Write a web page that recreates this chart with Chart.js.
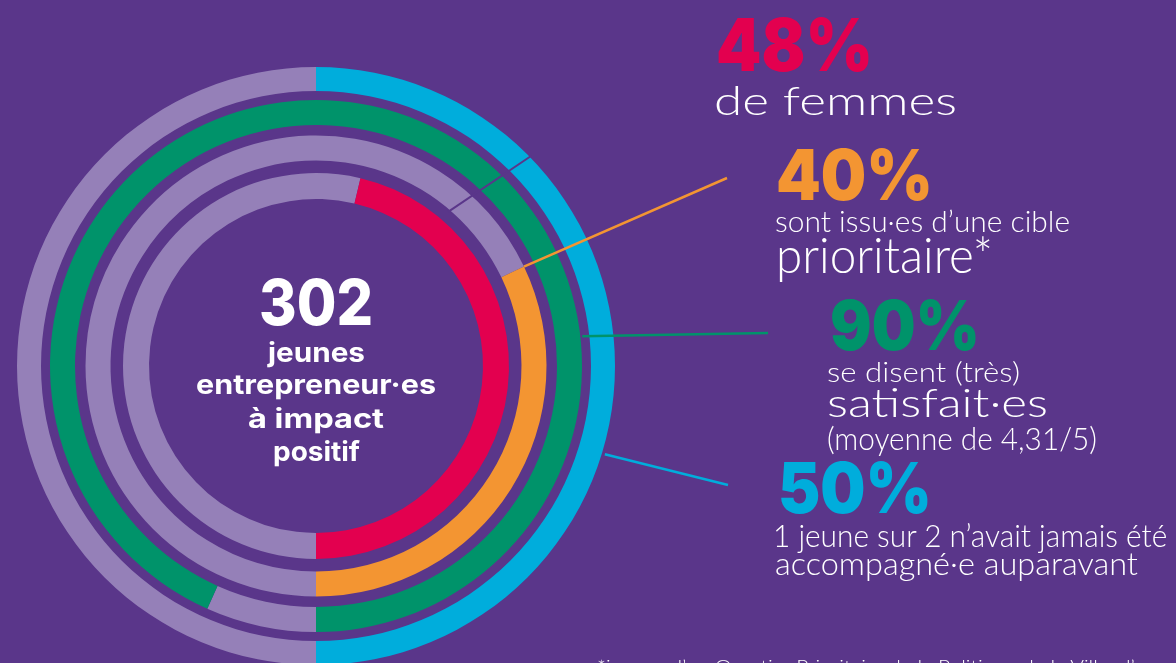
<!DOCTYPE html>
<html lang="fr">
<head>
<meta charset="utf-8">
<title>302 jeunes entrepreneur·es à impact positif</title>
<script src="https://cdn.jsdelivr.net/npm/chart.js@4.4.0/dist/chart.umd.min.js"></script>
<style>
  html, body { margin: 0; padding: 0; }
  body { width: 1176px; height: 663px; overflow: hidden; background: #5a368a; position: relative; font-family: Inter, "Noto Sans", sans-serif; }
  #rings { position: absolute; left: 0; top: 0; }
  .txt { position: absolute; white-space: nowrap; color: #fff; margin: 0; transform-origin: 0 0; }
</style>
</head>
<body>
<canvas id="rings" width="1176" height="663"></canvas>
<div id="labels"></div>
<script>
const BG = '#5a368a';
const REST = '#9580b8';

// rings, outermost first
const ringNames = ['jamais accompagné·e auparavant', 'satisfait·es', 'cible prioritaire', 'femmes'];
const ringShares = [50, 93.3, 32.1, 46.3]; // part of each ring drawn in colour
const ringColors = ['#00addc', '#00936a', '#f39532', '#e3004f'];

const headline = ['50%', '90%', '40%', '48%'];
const totalYoung = '302';
const totalCaption = ['jeunes', 'entrepreneur·es', 'à impact', 'positif'];
const blurbWomen = ['de femmes'];
const blurbTarget = ['sont issu·es d’une cible', 'prioritaire*'];
const blurbSatisfied = ['se disent (très)', 'satisfait·es', '(moyenne de 4,31/5)'];
const blurbFirstTime = ['1 jeune sur 2 n’avait jamais été', 'accompagné·e auparavant'];
const footnote = '*issu·es d’un Quartier Prioritaire de la Politique de la Ville, d’une';

// ring thickness and the empty bands between rings
const ringWeights = [24, 25, 25, 26];
const gapWeights = [9, 10.5, 12.5];

const datasets = [];
ringShares.forEach((share, i) => {
  if (i > 0) {
    datasets.push({ label: 'gap', data: [100], backgroundColor: ['rgba(0,0,0,0)'], weight: gapWeights[i - 1] });
  }
  datasets.push({
    label: ringNames[i],
    data: [100 - share, share],
    backgroundColor: [REST, ringColors[i]],
    weight: ringWeights[i],
  });
});

// leader lines from rings to the figures
const leaders = [
  { ring: 0, deg: 107, dr: 3, to: [728, 485] },
  { ring: 1, deg: 83.6, dr: 2, to: [768, 333] },
  { ring: 2, atStart: true, dr: 0, to: [727, 178] },
];

const leaderPlugin = {
  id: 'leaders',
  afterDatasetsDraw(chart) {
    const c = chart.ctx;
    c.save();
    leaders.forEach((l) => {
      const arc = chart.getDatasetMeta(l.ring * 2).data[1];
      const a = l.atStart ? arc.startAngle : (l.deg - 90) * Math.PI / 180;
      const r = arc.outerRadius + l.dr;
      c.beginPath();
      c.moveTo(arc.x + r * Math.cos(a), arc.y + r * Math.sin(a));
      c.lineTo(l.to[0], l.to[1]);
      c.strokeStyle = ringColors[l.ring];
      c.lineWidth = 2.5;
      c.stroke();
    });
    // old cut mark across the upper right rings
    const ref = chart.getDatasetMeta(0).data[0];
    const p = (deg, r) => {
      const a = (deg - 90) * Math.PI / 180;
      return [ref.x + r * Math.cos(a), ref.y + r * Math.sin(a)];
    };
    const s = p(40.6, 203), e = p(45.7, 301);
    c.beginPath();
    c.moveTo(s[0], s[1]);
    c.lineTo(e[0], e[1]);
    c.strokeStyle = BG;
    c.lineWidth = 2;
    c.stroke();
    c.restore();
  },
};

const chart = new Chart(document.getElementById('rings'), {
  type: 'doughnut',
  data: { labels: ['reste', 'part'], datasets: datasets },
  options: {
    responsive: false,
    animation: false,
    rotation: 180,
    cutout: '55.85%',
    radius: 299,
    hoverOffset: 0,
    layout: { padding: { left: 17, right: 561, top: 69, bottom: 0 } },
    elements: { arc: { borderWidth: 0, hoverBorderWidth: 0 } },
    plugins: { legend: { display: false }, tooltip: { enabled: false } },
  },
  plugins: [leaderPlugin],
});

// text, stretched horizontally to the width it has in the poster
const measure = document.createElement('canvas').getContext('2d');
function addText(t, o) {
  const el = document.createElement('div');
  el.className = 'txt';
  el.textContent = t;
  const family = o.weight ? 'Inter, "Noto Sans", sans-serif' : 'Lato, Inter, sans-serif';
  const font = `${o.weight || 300} ${o.size}px ${family}`;
  el.style.font = font;
  measure.font = font;
  const m = measure.measureText(t);
  const asc = m.fontBoundingBoxAscent, desc = m.fontBoundingBoxDescent;
  el.style.lineHeight = (asc + desc) + 'px';
  const sx = o.w ? o.w / m.width : 1;
  el.style.transform = `scaleX(${sx})`;
  const width = m.width * sx;
  const left = o.cx !== undefined ? o.cx - width / 2 : o.x;
  el.style.left = left + 'px';
  el.style.top = (o.base - asc) + 'px';
  if (o.color) el.style.color = o.color;
  document.getElementById('labels').appendChild(el);
}

const cx = (chart.chartArea.left + chart.chartArea.right) / 2;
addText(totalYoung, { cx: cx, base: 325, size: 63, weight: 800, w: 114 });
addText(totalCaption[0], { cx: cx, base: 362, size: 27, weight: 700, w: 97 });
addText(totalCaption[1], { cx: cx, base: 394, size: 27, weight: 700, w: 240 });
addText(totalCaption[2], { cx: cx, base: 428, size: 27, weight: 700, w: 136 });
addText(totalCaption[3], { cx: cx, base: 461, size: 27, weight: 700, w: 87 });

addText(headline[3], { x: 716, base: 71, size: 73, weight: 900, color: ringColors[3], w: 157 });
addText(blurbWomen[0], { x: 714, base: 115, size: 39, w: 243 });

addText(headline[2], { x: 776, base: 200, size: 70, weight: 900, color: ringColors[2], w: 157 });
addText(blurbTarget[0], { x: 775, base: 232, size: 29, w: 295 });
addText(blurbTarget[1], { x: 776, base: 273, size: 49, w: 217 });

addText(headline[1], { x: 830, base: 350, size: 69, weight: 900, color: ringColors[1], w: 150 });
addText(blurbSatisfied[0], { x: 827, base: 382, size: 28, w: 193 });
addText(blurbSatisfied[1], { x: 827, base: 417, size: 39, w: 221 });
addText(blurbSatisfied[2], { x: 827, base: 450, size: 31, w: 270 });

addText(headline[0], { x: 778, base: 513, size: 70, weight: 900, color: ringColors[0], w: 154 });
addText(blurbFirstTime[0], { x: 773, base: 547, size: 32, w: 395 });
addText(blurbFirstTime[1], { x: 775, base: 575, size: 32, w: 363 });

addText(footnote, { x: 597, base: 673, size: 18, w: 573 });
</script>
</body>
</html>
